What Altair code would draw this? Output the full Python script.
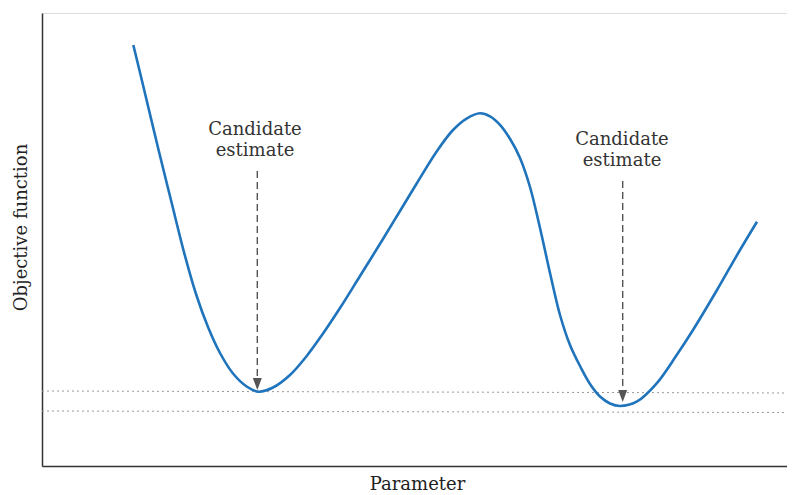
import altair as alt
import pandas as pd

# Curve, in picture units (x right, y up from the x axis)
curve_x = [91.3, 101, 117, 129.7, 142.3, 154, 166, 178, 191, 204.7, 216.3,
           231, 248, 264.7, 280, 298, 318, 341, 358, 375, 395, 411, 425, 438,
           448, 458, 468, 478, 488, 498, 508, 518, 528, 538, 548, 558, 568, 578,
           594.7, 614.7, 634.7, 651, 675, 698, 715]
curve_y = [421, 381, 314.3, 263, 212.7, 172, 139, 113, 92.5, 79.5, 74.3,
           78.5, 91, 110, 131, 158, 190, 227, 255, 283, 315, 336, 347.7, 352.7,
           349.7, 341.2, 327.2, 308, 279, 238, 193, 151, 121, 100, 82, 69.5, 62.5, 60,
           64.3, 82.7, 111, 136, 176, 216, 244.3]

# Annotations
labels_line1 = ["Candidate", "Candidate"]
labels_line2 = ["estimate", "estimate"]
label_x = [213, 580]
label_y1 = [336, 326]
label_y2 = [315, 305]
arrow_x = [215.3, 580.7]
arrow_top = [295, 285]
arrow_end = [88, 76]
head_y = [82, 70]

# Dotted reference levels (slightly tilted as in the picture)
level_left = [75, 55]
level_right = [73, 53.5]

XMAX, YMAX = 745, 453
FONT = "DejaVu Serif"
FS = 18

df_curve = pd.DataFrame({"x": curve_x, "y": curve_y})
df_lab = pd.DataFrame({"x": label_x, "y1": label_y1, "y2": label_y2,
                       "t1": labels_line1, "t2": labels_line2})
df_arrow = pd.DataFrame({"x": arrow_x, "top": arrow_top, "end": arrow_end, "head": head_y})
df_lvl = pd.DataFrame({"x": [0, 0], "x2": [XMAX, XMAX], "y": level_left, "y2": level_right})

xs = alt.Scale(domain=[0, XMAX], nice=False, zero=False)
ys = alt.Scale(domain=[0, YMAX], nice=False, zero=False)

xax = alt.Axis(labels=False, ticks=False, grid=False, domain=True, domainColor="#333",
               domainWidth=1.5, title="Parameter", titleFont=FONT, titleFontSize=FS,
               titleFontWeight="normal", titleColor="#222", titlePadding=9, titleX=375)
yax = alt.Axis(labels=False, ticks=False, grid=False, domain=True, domainColor="#333",
               domainWidth=1.5, title="Objective function", titleFont=FONT, titleFontSize=FS,
               titleFontWeight="normal", titleColor="#222", titlePadding=12, titleY=214)

line = alt.Chart(df_curve).mark_line(color="#1f74bc", strokeWidth=2.6,
                                     interpolate="catmull-rom").encode(
    x=alt.X("x:Q", scale=xs, axis=xax),
    y=alt.Y("y:Q", scale=ys, axis=yax),
)

levels = alt.Chart(df_lvl).mark_rule(color="#999", strokeDash=[2, 3], strokeWidth=1).encode(
    x=alt.X("x:Q", scale=xs), x2="x2:Q", y=alt.Y("y:Q", scale=ys), y2="y2:Q"
)

arrows = alt.Chart(df_arrow).mark_rule(color="#555", strokeDash=[7, 4], strokeWidth=1.4).encode(
    x=alt.X("x:Q", scale=xs), y=alt.Y("top:Q", scale=ys), y2="end:Q"
)

heads = alt.Chart(df_arrow).mark_point(
    shape="M-0.75,-1L0.75,-1L0,1Z", filled=True, color="#555", opacity=1, size=144
).encode(x=alt.X("x:Q", scale=xs), y=alt.Y("head:Q", scale=ys))

t1 = alt.Chart(df_lab).mark_text(font=FONT, fontSize=FS, color="#333", baseline="middle").encode(
    x=alt.X("x:Q", scale=xs), y=alt.Y("y1:Q", scale=ys), text="t1:N"
)
t2 = alt.Chart(df_lab).mark_text(font=FONT, fontSize=FS, color="#333", baseline="middle").encode(
    x=alt.X("x:Q", scale=xs), y=alt.Y("y2:Q", scale=ys), text="t2:N"
)

chart = alt.layer(levels, arrows, heads, line, t1, t2).properties(
    width=XMAX, height=YMAX,
    autosize=alt.AutoSizeParams(type="none"),
    padding={"left": 34, "top": 5, "right": 0, "bottom": 30},
).configure_view(stroke=None).configure(background="white")

chart.save("out.html", embed_options={"renderer": "svg", "actions": False})
